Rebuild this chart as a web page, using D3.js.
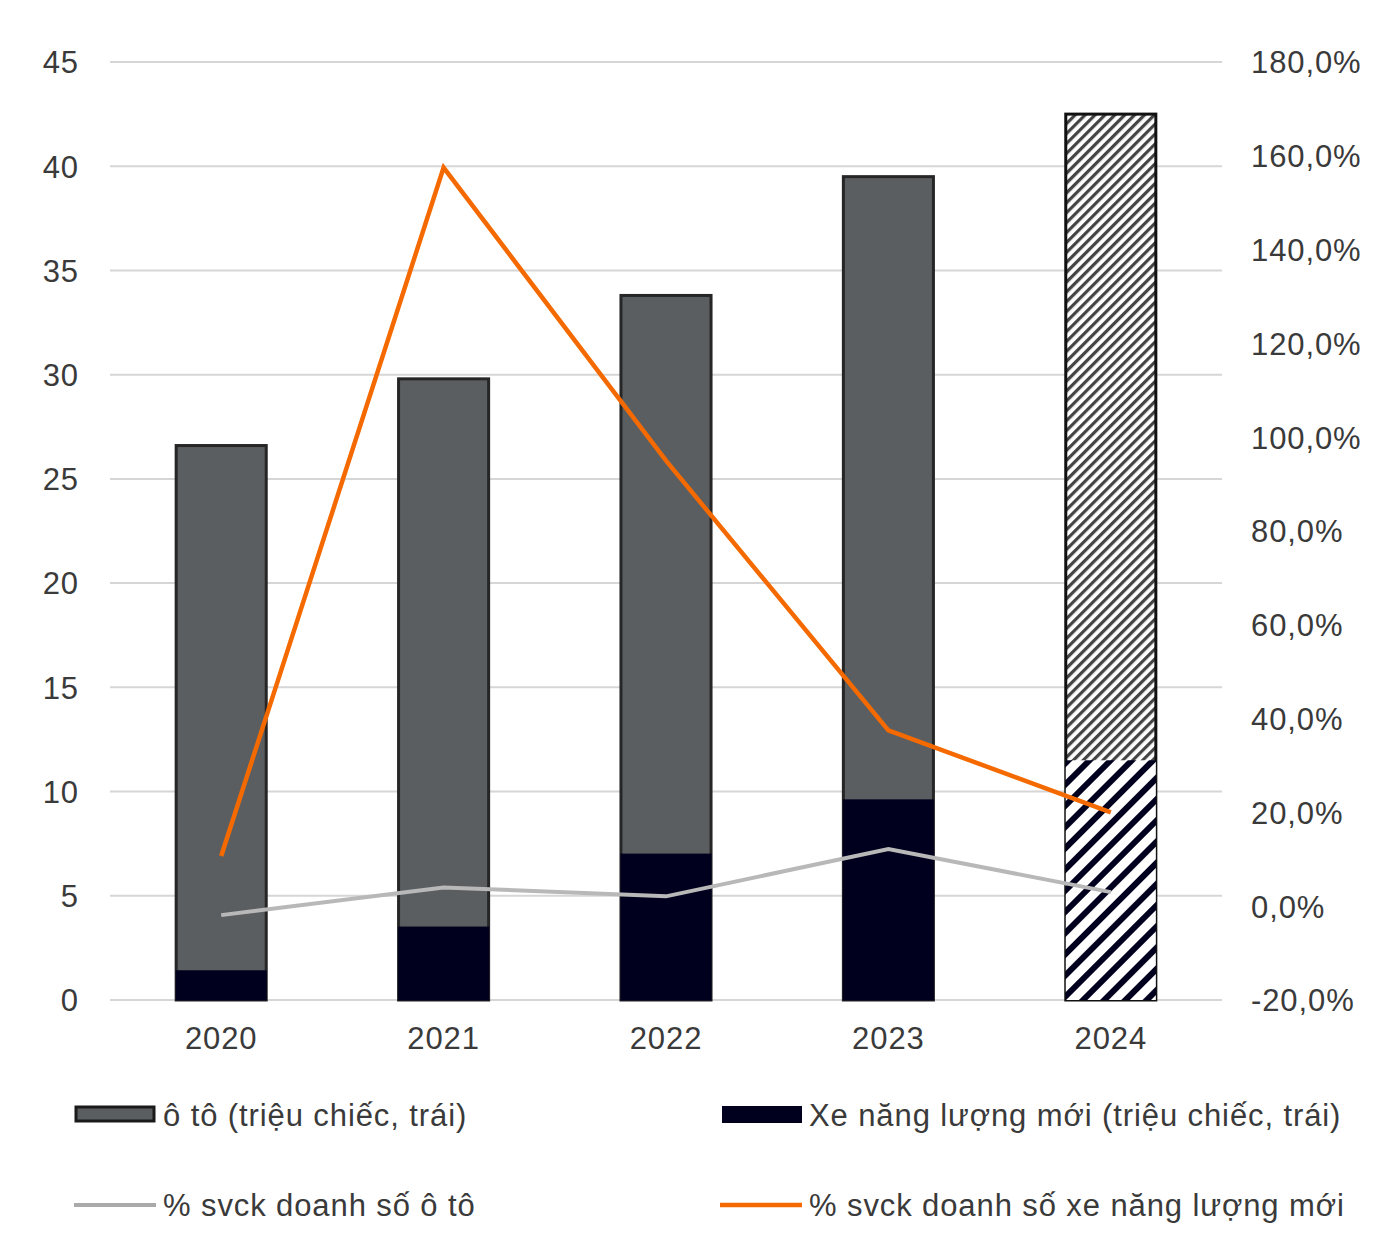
<!DOCTYPE html>
<html><head><meta charset="utf-8">
<script src="https://cdn.jsdelivr.net/npm/d3@7"></script>
<style>body{margin:0;background:#fff}svg{display:block}text{font-family:"Liberation Sans",Arial,sans-serif;fill:#3a3a3a;letter-spacing:0.9px}</style>
</head><body><svg id="c" width="1394" height="1252"></svg>
<script>
const years = ["2020","2021","2022","2023","2024"];
const carTotal = [26.6, 29.8, 33.8, 39.5, 42.5];
const nevSales = [1.4, 3.5, 7.0, 9.6, 11.5];
const carYoY = [-1.9, 4.0, 2.1, 12.2, 3.0];
const nevYoY = [10.7, 157.5, 95.0, 37.5, 20.0];
const leftTicks = [0,5,10,15,20,25,30,35,40,45];
const rightTicks = [-20,0,20,40,60,80,100,120,140,160,180];
const forecastYear = "2024";
const legendLabels = ["ô tô (triệu chiếc, trái)","Xe năng lượng mới (triệu chiếc, trái)","% svck doanh số ô tô","% svck doanh số xe năng lượng mới"];

const FS = "31px";
const svg = d3.select("#c");
const L = 110, R = 1222, T = 62, B = 1000;
const x = d3.scaleBand().domain(years).range([L, R]).paddingInner(0.595).paddingOuter(0.2975);
const y = d3.scaleLinear().domain([0,45]).range([B, T]);
const y2 = d3.scaleLinear().domain([-20,180]).range([B, T]);

const defs = svg.append("defs");
const p1 = defs.append("pattern").attr("id","hatchFine").attr("patternUnits","userSpaceOnUse")
  .attr("width",7).attr("height",7).attr("patternTransform","rotate(45)");
p1.append("rect").attr("width",7).attr("height",7).attr("fill","#fff");
p1.append("rect").attr("width",3.2).attr("height",7).attr("fill","#444");
const p2 = defs.append("pattern").attr("id","hatchNav").attr("patternUnits","userSpaceOnUse")
  .attr("width",15).attr("height",15).attr("patternTransform","rotate(45)");
p2.append("rect").attr("width",15).attr("height",15).attr("fill","#fff");
p2.append("rect").attr("width",6).attr("height",15).attr("fill","#00001e");

// gridlines
svg.append("g").selectAll("line").data(leftTicks).join("line")
  .attr("x1",L).attr("x2",R).attr("y1",d=>y(d)).attr("y2",d=>y(d))
  .attr("stroke","#d6d6d6").attr("stroke-width",2);

// left axis
const ax = svg.append("g").attr("transform",`translate(${L},0)`)
  .call(d3.axisLeft(y).tickValues(leftTicks).tickSize(0).tickPadding(31));
ax.select(".domain").remove();
ax.selectAll("text").style("font-size",FS).attr("fill","#3a3a3a").attr("dy","0.35em");

// right axis
const ax2 = svg.append("g").attr("transform",`translate(${R},0)`)
  .call(d3.axisRight(y2).tickValues(rightTicks).tickSize(0).tickPadding(29)
    .tickFormat(d => d3.format(".1f")(d).replace(".",",").replace("\u2212","-") + "%"));
ax2.select(".domain").remove();
ax2.selectAll("text").style("font-size",FS).attr("fill","#3a3a3a").attr("dy","0.35em");

// x axis labels
const ax3 = svg.append("g").attr("transform",`translate(0,${B})`)
  .call(d3.axisBottom(x).tickSize(0).tickPadding(27));
ax3.select(".domain").remove();
ax3.selectAll("text").style("font-size",FS).attr("fill","#3a3a3a");

// total car bars
svg.append("g").selectAll("rect").data(years).join("rect")
  .attr("x",d=>x(d)).attr("width",x.bandwidth())
  .attr("y",(d,i)=>y(carTotal[i])).attr("height",(d,i)=>y(0)-y(carTotal[i]))
  .attr("fill",d=>d===forecastYear?"url(#hatchFine)":"#5b5e61")
  .attr("stroke",d=>d===forecastYear?"#111":"#262626").attr("stroke-width",3);

// NEV bars
svg.append("g").selectAll("rect").data(years).join("rect")
  .attr("x",d=>x(d)).attr("width",x.bandwidth())
  .attr("y",(d,i)=>y(nevSales[i])).attr("height",(d,i)=>y(0)-y(nevSales[i]))
  .attr("fill",d=>d===forecastYear?"url(#hatchNav)":"#00001e")
  .attr("stroke","#00001e").attr("stroke-width",d=>d===forecastYear?0:1);

const cx = d => x(d) + x.bandwidth()/2;
const line = vals => d3.line().x((d,i)=>cx(years[i])).y(d=>y2(d))(vals);
svg.append("path").attr("d",line(carYoY)).attr("fill","none").attr("stroke","#b8b8b8").attr("stroke-width",4);
svg.append("path").attr("d",line(nevYoY)).attr("fill","none").attr("stroke","#f46a00").attr("stroke-width",4.5);

// legend
const lg = svg.append("g");
lg.append("rect").attr("x",76).attr("y",1107).attr("width",78).attr("height",14).attr("fill","#5b5e61").attr("stroke","#1a1a1a").attr("stroke-width",3);
lg.append("text").attr("x",163).attr("y",1126).style("font-size",FS).text(legendLabels[0]);
lg.append("rect").attr("x",722).attr("y",1106).attr("width",80).attr("height",17).attr("fill","#00001e");
lg.append("text").attr("x",809).attr("y",1126).style("font-size",FS).text(legendLabels[1]);
lg.append("line").attr("x1",74).attr("x2",156).attr("y1",1205).attr("y2",1205).attr("stroke","#aaaaaa").attr("stroke-width",4);
lg.append("text").attr("x",163).attr("y",1216).style("font-size",FS).text(legendLabels[2]);
lg.append("line").attr("x1",720).attr("x2",802).attr("y1",1205).attr("y2",1205).attr("stroke","#f46a00").attr("stroke-width",4.5);
lg.append("text").attr("x",809).attr("y",1216).style("font-size",FS).text(legendLabels[3]);
</script></body></html>
